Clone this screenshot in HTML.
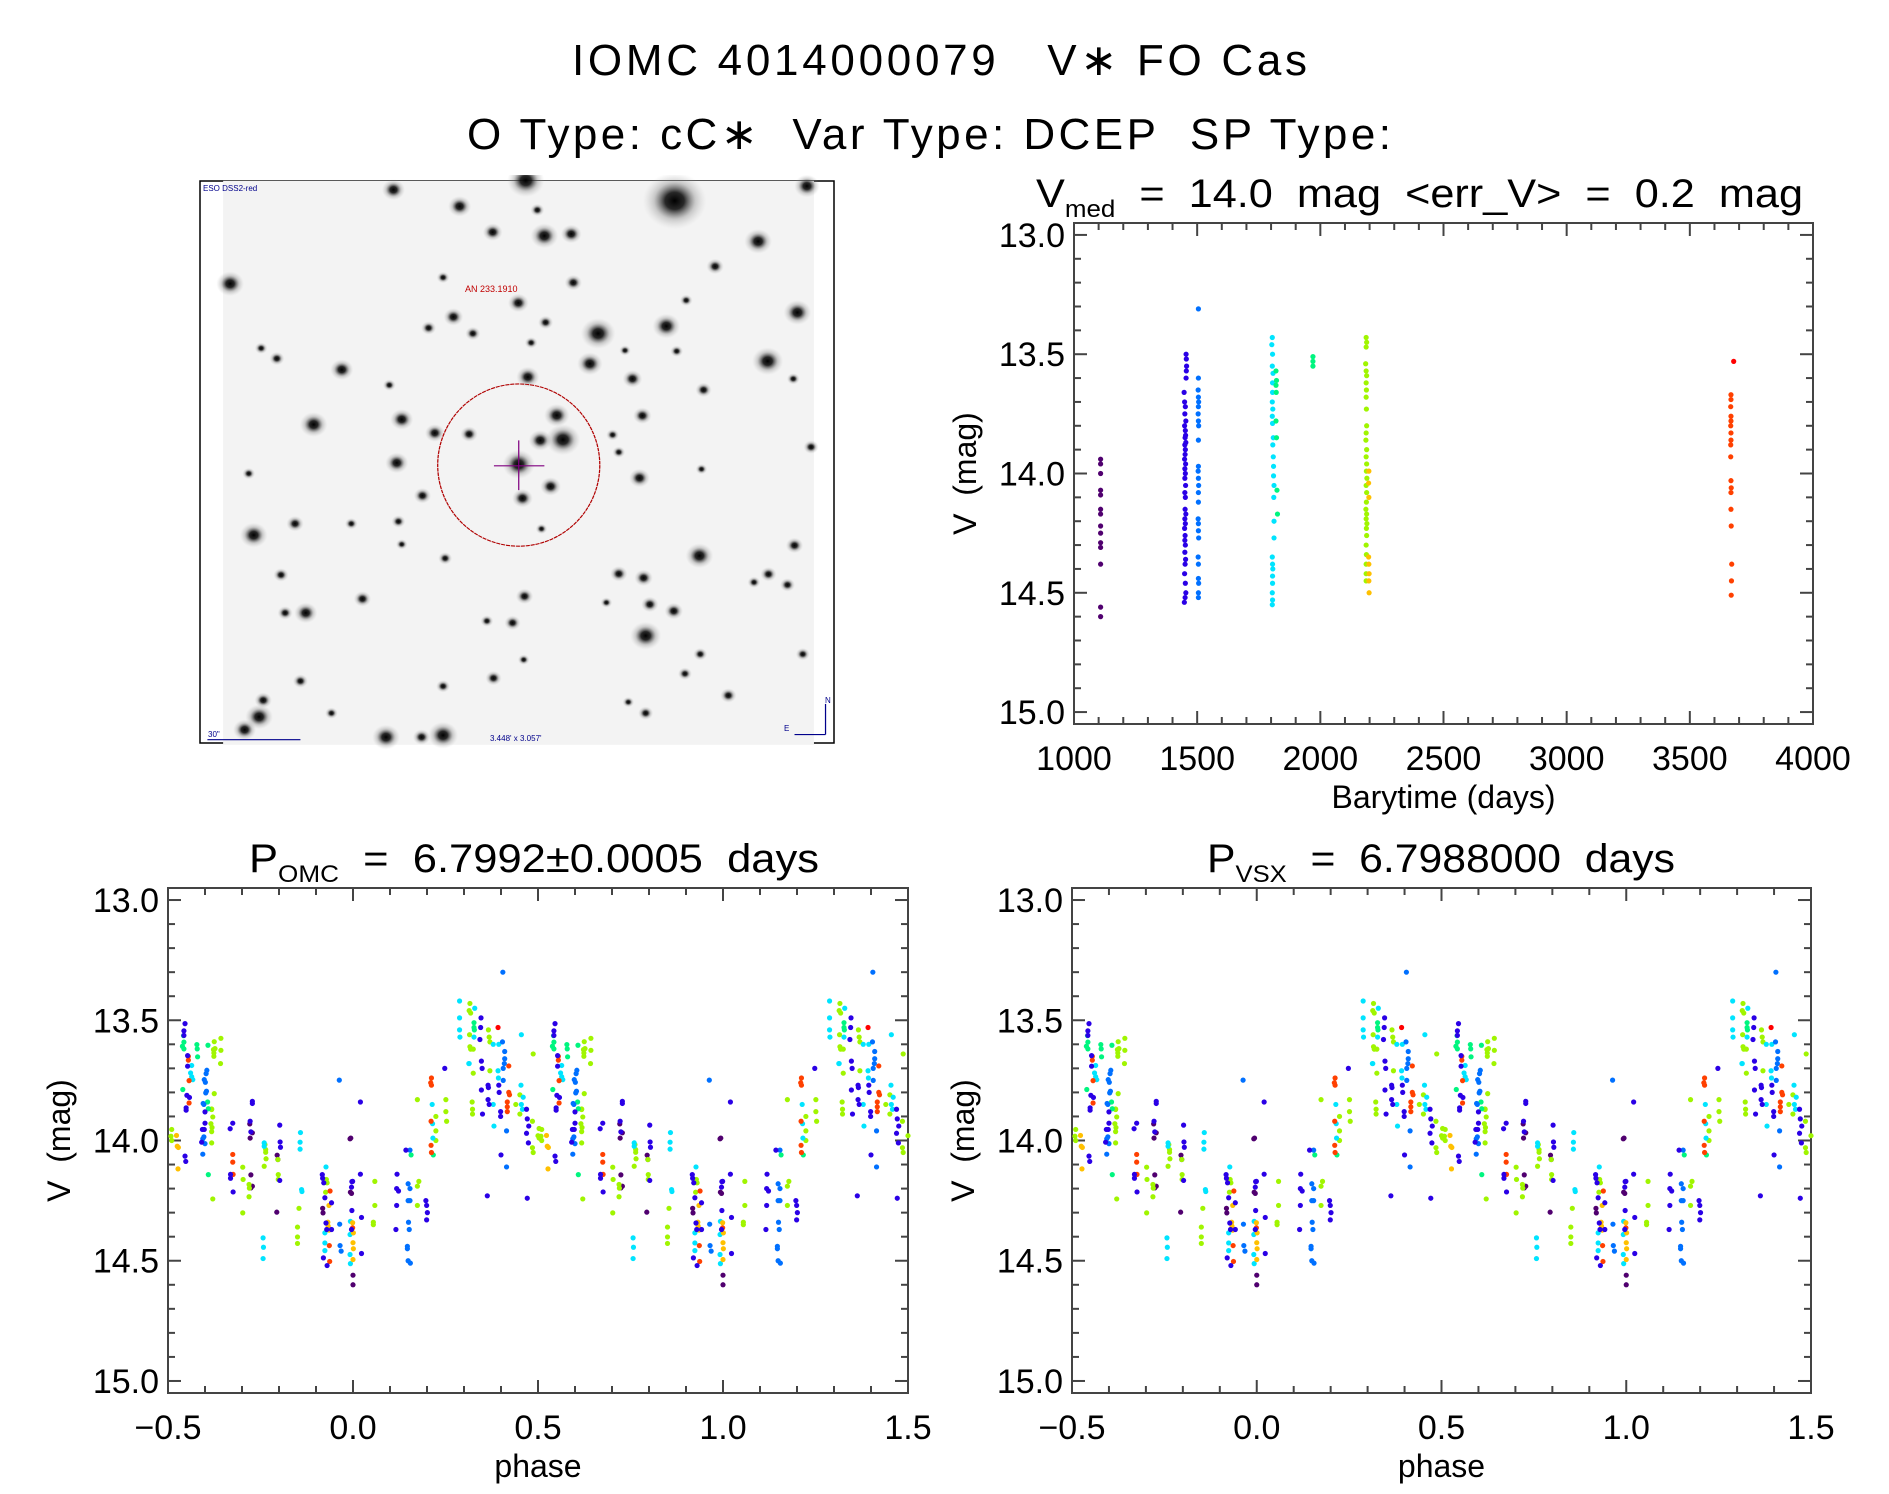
<!DOCTYPE html>
<html><head><meta charset="utf-8"><style>
html,body{margin:0;padding:0;background:#fff}
svg{display:block}
text{font-family:"Liberation Sans",sans-serif;fill:#000;white-space:pre}
</style></head><body>
<svg id="root" width="1889" height="1494" viewBox="0 0 1889 1494" xmlns="http://www.w3.org/2000/svg">
<text x="572" y="75" font-size="44" textLength="735" xml:space="preserve">IOMC 4014000079   V∗ FO Cas</text>
<text x="467" y="149" font-size="44" textLength="924" xml:space="preserve">O Type: cC∗  Var Type: DCEP  SP Type:</text>
<text x="1036" y="207" font-size="40" textLength="767" lengthAdjust="spacingAndGlyphs" xml:space="preserve">V<tspan font-size="24" dy="10">med</tspan><tspan dy="-10">  =  14.0  mag  &lt;err_V&gt;  =  0.2  mag</tspan></text>
<text x="249" y="872" font-size="40" textLength="570" lengthAdjust="spacingAndGlyphs" xml:space="preserve">P<tspan font-size="24" dy="10">OMC</tspan><tspan dy="-10">  =  6.7992±0.0005  days</tspan></text>
<text x="1207" y="872" font-size="40" textLength="468" lengthAdjust="spacingAndGlyphs" xml:space="preserve">P<tspan font-size="24" dy="10">VSX</tspan><tspan dy="-10">  =  6.7988000  days</tspan></text>

<g>
<rect x="200" y="181" width="634" height="562" fill="#fff" stroke="#000" stroke-width="1.5"/>
<svg x="195" y="175" width="645" height="575" viewBox="0 0 1560 1560" preserveAspectRatio="none">
<defs><radialGradient id="star"><stop offset="0" stop-color="#000" stop-opacity="1"/><stop offset="0.3" stop-color="#111" stop-opacity="0.9"/><stop offset="0.65" stop-color="#666" stop-opacity="0.3"/><stop offset="1" stop-color="#aaa" stop-opacity="0"/></radialGradient></defs>
<rect x="68" y="16" width="1429" height="1530" fill="#f3f3f3"/>
<g id="stars"></g>
<ellipse cx="783" cy="787" rx="196" ry="220" fill="none" stroke="#b00000" stroke-width="3" stroke-dasharray="10 2"/>
<line x1="723" y1="789" x2="845" y2="789" stroke="#800080" stroke-width="3"/>
<line x1="783" y1="720" x2="783" y2="855" stroke="#800080" stroke-width="3"/>
<line x1="30" y1="1532" x2="255" y2="1532" stroke="#00008b" stroke-width="3"/>
<line x1="1525" y1="1435" x2="1525" y2="1518" stroke="#00008b" stroke-width="3"/>
<line x1="1450" y1="1518" x2="1525" y2="1518" stroke="#00008b" stroke-width="3"/>
</svg>
<text x="203" y="191" font-size="8" style="fill:#00008b">ESO DSS2-red</text>
<text x="465" y="292" font-size="9" style="fill:#c00000">AN 233.1910</text>
<text x="208" y="737" font-size="8" style="fill:#00008b">30"</text>
<text x="490" y="741" font-size="8" style="fill:#00008b">3.448' x 3.057'</text>
<text x="784" y="731" font-size="8" style="fill:#00008b">E</text>
<text x="825" y="703" font-size="8" style="fill:#00008b">N</text>
</g>
<g id="plots"></g>
</svg>
<script>
// ---- sky image stars [x, y, r] in image viewBox units ----
const starList = [[1160,70,55],[800,15,32],[480,40,20],[640,85,20],[720,155,17],[845,165,24],[910,160,18],[1362,180,24],[1480,30,22],[85,295,24],[1258,248,15],[915,292,15],[782,347,18],[625,385,17],[848,400,13],[975,430,30],[1140,410,24],[1457,373,24],[1385,505,27],[955,512,22],[355,528,20],[805,548,20],[1058,553,17],[1230,583,14],[875,652,22],[890,718,30],[835,720,20],[500,663,20],[580,700,17],[663,703,15],[287,677,24],[488,781,20],[783,785,28],[860,845,18],[792,877,18],[1075,822,18],[1082,653,16],[550,870,15],[142,977,24],[242,946,15],[1220,1033,24],[1450,1005,15],[1025,1082,15],[1085,1093,16],[208,1085,13],[405,1150,15],[268,1188,20],[218,1188,13],[797,1143,15],[1100,1165,15],[1158,1183,16],[768,1215,14],[1090,1250,27],[255,1373,13],[722,1365,14],[600,1387,12],[1222,1300,12],[1290,1412,14],[155,1470,24],[165,1425,15],[120,1505,20],[462,1525,24],[600,1520,26],[548,1525,15],[1387,1083,14],[1433,1112,13],[1490,738,13],[1447,553,11],[565,415,13],[672,430,13],[198,498,13],[160,470,11],[470,570,11],[1010,705,11],[1025,752,11],[1185,1353,12],[1470,1300,12],[330,1460,11],[1090,1460,13],[828,95,12],[600,278,11],[1188,340,11],[813,455,11],[1165,478,11],[1040,476,10],[130,810,11],[378,946,11],[492,940,12],[500,1002,10],[605,1040,12],[1352,1105,11],[995,1160,10],[706,1210,11],[795,1315,10],[1048,1430,10],[1225,798,10],[838,960,10]];
const SNS='http://www.w3.org/2000/svg';
const starG=document.getElementById('stars');
starList.forEach(s=>{const c=document.createElementNS(SNS,'circle');c.setAttribute('cx',s[0]);c.setAttribute('cy',s[1]);c.setAttribute('r',s[2]*1.4);c.setAttribute('fill','url(#star)');


starG.appendChild(c);});

// ---- colors ----
const COL={b:'#2a00e6',a:'#0070ff',c:'#00e4ff',g:'#00f57f',y:'#a0f500',o:'#ffc000',r:'#ff4000',p:'#50006f',R:'#ff0000'};

// ---- light curve (time series) data [time, mag] per observing season ----
const tsPurple=[[1108,13.94],[1108,13.96],[1108,14.0],[1108,14.07],[1108,14.09],[1108,14.15],[1108,14.17],[1108,14.22],[1108,14.25],[1108,14.29],[1108,14.31],[1108,14.38],[1108,14.56],[1108,14.60]];
const tsBlue=[[1455,13.50],[1456,13.52],[1457,13.55],[1456,13.57],[1455,13.60],[1447,13.66],[1449,13.70],[1452,13.72],[1450,13.75],[1454,13.78],[1449,13.80],[1452,13.82],[1453,13.84],[1451,13.85],[1454,13.87],[1450,13.88],[1452,13.90],[1451,13.92],[1449,13.94],[1453,13.96],[1450,13.98],[1452,14.00],[1450,14.02],[1453,14.05],[1450,14.08],[1452,14.10],[1451,14.15],[1454,14.17],[1450,14.19],[1452,14.21],[1449,14.23],[1451,14.26],[1450,14.28],[1452,14.30],[1450,14.33],[1453,14.36],[1451,14.38],[1449,14.42],[1452,14.46],[1454,14.50],[1451,14.52],[1448,14.54]];
const tsAzure=[[1505,13.31],[1505,13.60],[1504,13.65],[1505,13.68],[1506,13.70],[1505,13.72],[1504,13.75],[1505,13.78],[1506,13.80],[1505,13.86],[1505,13.97],[1504,13.99],[1505,14.02],[1506,14.05],[1505,14.08],[1505,14.12],[1504,14.19],[1505,14.21],[1505,14.24],[1506,14.27],[1504,14.35],[1505,14.38],[1505,14.44],[1506,14.46],[1505,14.50],[1505,14.52]];
const tsCyan=[[1805,13.43],[1803,13.46],[1806,13.50],[1805,13.55],[1808,13.58],[1806,13.62],[1806,13.66],[1805,13.70],[1807,13.73],[1805,13.76],[1806,13.79],[1809,13.85],[1807,13.88],[1809,13.93],[1810,13.97],[1810,14.01],[1812,14.05],[1811,14.10],[1812,14.20],[1812,14.27],[1805,14.35],[1806,14.38],[1807,14.40],[1806,14.43],[1806,14.46],[1805,14.50],[1806,14.53],[1805,14.55]];
const tsGreen=[[1820,13.57],[1822,13.61],[1820,13.63],[1821,13.66],[1820,13.78],[1822,13.85],[1824,14.07],[1826,14.17],[1970,13.51],[1970,13.53],[1970,13.55]];
const tsYellow=[[2186,13.43],[2188,13.45],[2186,13.47],[2184,13.54],[2186,13.57],[2188,13.59],[2186,13.62],[2187,13.65],[2186,13.68],[2187,13.73],[2188,13.80],[2186,13.83],[2185,13.86],[2188,13.90],[2186,13.93],[2188,13.96],[2187,13.99],[2189,14.02],[2186,14.05],[2188,14.08],[2187,14.12],[2185,14.15],[2188,14.17],[2186,14.19],[2189,14.21],[2187,14.23],[2188,14.26],[2186,14.30],[2187,14.34],[2186,14.38],[2186,14.42],[2186,14.45]];
const tsOrange=[[2197,13.99],[2196,14.04],[2197,14.10],[2196,14.35],[2197,14.38],[2198,14.42],[2197,14.45],[2198,14.50]];
const tsRed=[[3667,13.67],[3667,13.69],[3666,13.72],[3667,13.76],[3667,13.78],[3666,13.80],[3667,13.83],[3667,13.86],[3666,13.88],[3666,13.93],[3667,14.03],[3668,14.06],[3667,14.08],[3667,14.15],[3668,14.22],[3670,14.38],[3669,14.45],[3668,14.51]];
const tsRedPeak=[[3678,13.53]];
const tsXTicks=[1000,1500,2000,2500,3000,3500,4000];
const magTicks=[13.0,13.5,14.0,14.5,15.0];
const phaseTicks=[-0.5,0.0,0.5,1.0,1.5];

// ---- phase-folded data [phase, mag], one cycle (drawn at phase and phase+1) ----
const phBlue=[[-0.454,13.514],[-0.457,13.544],[-0.457,13.563],[-0.447,13.647],[-0.447,13.691],[-0.449,13.812],[-0.442,13.821],[-0.451,13.864],[-0.451,13.874],[-0.454,14.065],[-0.452,14.087],[-0.400,13.881],[-0.400,13.928],[-0.407,13.954],[-0.402,13.954],[-0.409,14.007],[-0.332,13.951],[-0.325,13.928],[-0.331,14.141],[-0.331,14.157],[-0.324,14.214],[-0.272,13.837],[-0.272,13.846],[-0.278,13.920],[-0.276,13.964],[-0.198,13.936],[-0.197,14.006],[-0.196,14.028],[-0.198,14.166],[-0.083,14.142],[-0.082,14.157],[-0.079,14.176],[-0.076,14.238],[-0.058,14.259],[-0.073,14.343],[-0.071,14.370],[-0.058,14.370],[-0.080,14.488],[-0.070,14.520],[-0.003,14.171],[-0.004,14.194],[-0.003,14.291],[-0.004,14.370],[0.020,13.84],[0.248,13.70],[0.020,14.14],[-0.001,14.17],[0.023,14.32],[0.023,14.47],[0.119,14.14],[0.118,14.20],[0.123,14.21],[0.118,14.27],[0.116,14.37],[0.143,14.04],[0.197,14.25],[0.199,14.27],[0.201,14.30],[0.199,14.33],[0.346,13.49],[0.345,13.53],[0.343,13.58],[0.347,13.67],[0.349,13.70],[0.347,13.79],[0.365,13.77],[0.366,13.78],[0.365,13.83],[0.368,13.85],[0.350,13.89],[0.394,13.77],[0.395,13.80],[0.399,13.88],[0.399,13.90],[0.400,14.06],[0.363,14.23],[0.469,13.87],[0.471,13.91],[0.475,13.94],[0.469,13.97],[0.474,14.01],[0.471,14.24]];
const phAzure=[[-0.395,13.708],[-0.397,13.722],[-0.402,13.747],[-0.399,13.758],[-0.396,13.795],[-0.398,13.802],[-0.405,13.846],[-0.403,13.850],[-0.403,13.985],[-0.406,13.993],[-0.400,14.013],[-0.406,14.057],[-0.037,13.749],[-0.036,14.348],[-0.035,14.437],[-0.032,14.460],[0.405,13.30],[0.404,13.59],[0.410,13.63],[0.410,13.66],[0.409,13.68],[0.406,13.70],[0.406,13.75],[0.415,13.96],[0.415,14.11],[0.154,14.04],[0.149,14.18],[0.154,14.20],[0.149,14.25],[0.154,14.25],[0.150,14.34],[0.152,14.37],[0.147,14.44],[0.147,14.45],[0.149,14.50],[0.155,14.51]];
const phCyan=[[-0.436,13.688],[-0.439,13.719],[-0.436,13.735],[-0.433,13.747],[-0.142,13.967],[-0.143,14.007],[-0.143,14.036],[-0.240,14.010],[-0.240,14.024],[-0.139,14.204],[-0.138,14.212],[-0.243,14.405],[-0.242,14.444],[-0.243,14.491],[-0.073,14.110],[-0.076,14.384],[-0.076,14.426],[-0.076,14.458],[-0.007,14.336],[-0.008,14.391],[-0.008,14.474],[-0.007,14.512],[0.288,13.42],[0.288,13.49],[0.329,13.45],[0.288,13.54],[0.289,13.57],[0.327,13.57],[0.379,13.60],[0.394,13.60],[0.313,13.68],[0.314,13.68],[0.392,13.71],[0.393,13.74],[0.454,13.77],[0.460,13.82],[0.455,13.85],[0.458,13.87],[0.379,13.85],[0.455,13.56],[0.214,13.85],[0.215,13.93],[0.216,13.99],[0.381,13.94]];
const phGreen=[[-0.458,13.564],[-0.457,13.591],[-0.461,13.608],[-0.457,13.619],[-0.422,13.601],[-0.421,13.619],[-0.420,13.652],[-0.392,13.604],[-0.460,13.788],[-0.393,13.840],[-0.391,13.868],[-0.391,14.142],[0.327,13.51],[0.327,13.53],[0.328,13.54],[0.157,14.06],[0.217,14.06]];
const phYellow=[[-0.357,13.575],[-0.375,13.589],[-0.373,13.618],[-0.377,13.622],[-0.376,13.636],[-0.376,13.650],[-0.357,13.625],[-0.358,13.680],[-0.375,13.805],[-0.382,13.871],[-0.382,13.869],[-0.379,13.902],[-0.384,13.930],[-0.381,13.946],[-0.382,13.963],[-0.382,14.010],[-0.379,14.243],[-0.490,13.954],[-0.492,13.982],[-0.490,14.000],[-0.298,14.111],[-0.297,14.162],[-0.281,14.183],[-0.280,14.198],[-0.281,14.234],[-0.298,14.301],[-0.238,14.017],[-0.236,14.038],[-0.236,14.049],[-0.235,14.076],[-0.240,14.107],[-0.203,14.079],[-0.202,14.142],[-0.202,14.162],[-0.146,14.282],[-0.150,14.360],[-0.150,14.401],[-0.150,14.428],[-0.072,14.162],[-0.070,14.176],[-0.074,14.215],[0.316,13.43],[0.314,13.46],[0.318,13.47],[0.315,13.56],[0.316,13.61],[0.318,13.62],[0.325,13.62],[0.366,13.54],[0.368,13.57],[0.370,13.59],[0.370,13.71],[0.325,13.72],[0.322,13.84],[0.323,13.87],[0.323,13.89],[0.487,13.64],[0.451,13.81],[0.440,13.85],[0.451,13.89],[0.485,13.92],[0.503,13.95],[0.500,13.98],[0.503,13.99],[0.485,14.03],[0.487,14.05],[0.174,13.83],[0.224,13.90],[0.224,13.96],[0.224,14.00],[0.251,13.83],[0.251,13.88],[0.253,13.92],[0.178,14.17],[0.174,14.19],[0.059,14.17],[0.059,14.27],[0.055,14.34],[0.055,14.35],[0.174,14.27]];
const phOrange=[[-0.477,13.979],[-0.475,14.024],[-0.472,14.029],[-0.473,14.118],[-0.065,14.270],[-0.068,14.340],[-0.067,14.356],[-0.065,14.373],[-0.001,14.342],[0.001,14.384],[0.000,14.425],[0.001,14.45],[0.000,14.495]];
const phRedOrange=[[-0.445,13.650],[-0.445,13.666],[-0.443,13.751],[-0.443,13.844],[-0.325,14.058],[-0.325,14.090],[-0.324,14.141],[-0.062,14.210],[-0.064,14.437],[-0.063,14.503],[-0.001,14.363],[0.212,13.74],[0.210,13.76],[0.212,13.77],[0.211,13.92],[0.211,14.02],[0.212,14.05],[0.421,13.69],[0.421,13.80],[0.423,13.81],[0.417,13.84],[0.417,13.86],[0.417,13.88]];
const phRed=[[0.392,13.53]];
const phPurple=[[-0.279,13.931],[-0.272,13.968],[-0.278,13.990],[-0.276,14.143],[-0.272,14.190],[-0.276,14.197],[-0.205,14.061],[-0.203,14.079],[-0.206,14.298],[-0.082,14.282],[-0.081,14.301],[-0.007,14.215],[-0.008,13.993],[-0.006,13.99],[-0.004,14.22],[0.000,14.56],[0.000,14.60]];

const NS='http://www.w3.org/2000/svg';
const plots=document.getElementById('plots');
function mk(tag,attrs,parent){const e=document.createElementNS(NS,tag);for(const k in attrs)e.setAttribute(k,attrs[k]);(parent||plots).appendChild(e);return e;}
function scale(d0,d1,r0,r1){return v=>r0+(v-d0)*(r1-r0)/(d1-d0);}

function axes(name,box,xd,yd,xMajor,xMinorStep,xTicks,xFmt,xTitle){
  const g=mk('g',{});
  
  
  const X=scale(xd[0],xd[1],box.l,box.r), Y=scale(yd[0],yd[1],box.t,box.b);
  const st={stroke:'#444','stroke-width':2};
  const frame=mk('rect',{x:box.l,y:box.t,width:box.r-box.l,height:box.b-box.t,fill:'none',stroke:'#444','stroke-width':2},g);
  
  
  const nx=Math.round((xd[1]-xd[0])/xMinorStep);
  for(let i=0;i<=nx;i++){const v=xd[0]+i*xMinorStep;const x=X(v);const maj=Math.abs(((v-xd[0])/xMajor)-Math.round((v-xd[0])/xMajor))<1e-6;const L=maj?13:7;
    mk('line',Object.assign({x1:x,x2:x,y1:box.b,y2:box.b-L},st),g);mk('line',Object.assign({x1:x,x2:x,y1:box.t,y2:box.t+L},st),g);}
  xTicks.forEach(v=>{const t=mk('text',{x:X(v),y:box.b+46,'font-size':34,'text-anchor':'middle'},g);t.textContent=xFmt(v);
    
    });
  for(let i=0;i<=20;i++){const v=13+i*0.1;const y=Y(v);const L=(i%5===0)?13:7;
    mk('line',Object.assign({x1:box.l,x2:box.l+L,y1:y,y2:y},st),g);mk('line',Object.assign({x1:box.r,x2:box.r-L,y1:y,y2:y},st),g);}
  magTicks.forEach(v=>{const t=mk('text',{x:box.l-9,y:Y(v)+12,'font-size':34,'text-anchor':'end'},g);t.textContent=v.toFixed(1);
    
    });
  const xt=mk('text',{x:(box.l+box.r)/2,y:box.b+84,'font-size':32,'text-anchor':'middle'},g);xt.textContent=xTitle;
  
  
  const cy=(box.t+box.b)/2;
  const yt=mk('text',{x:box.l-98,y:cy,'font-size':32,'text-anchor':'middle',transform:`rotate(-90 ${box.l-98} ${cy})`},g);yt.textContent='V  (mag)';
  
  
  return {X,Y,g};
}
function dots(ax,pts,color,shift,xr){
  pts.forEach(p=>{shift.forEach(s=>{const xv=p[0]+s;if(xv<xr[0]||xv>xr[1])return;
    const c=mk('circle',{cx:ax.X(xv),cy:ax.Y(p[1]),r:2.6,fill:color},ax.g);
    
    });});
}
const magDomain=[12.95,15.05];
const lc=axes('lightcurve-plot',{l:1074,r:1813,t:223,b:724},[1000,4000],magDomain,500,100,tsXTicks,v=>String(v),'Barytime (days)');
[[tsPurple,COL.p],[tsBlue,COL.b],[tsAzure,COL.a],[tsCyan,COL.c],[tsGreen,COL.g],[tsYellow,COL.y],[tsOrange,COL.o],[tsRed,COL.r],[tsRedPeak,COL.R]].forEach(s=>dots(lc,s[0],s[1],[0],[1000,4000]));
const fmtP=v=>(v<0?'\u2212':'')+Math.abs(v).toFixed(1);
const phaseSets=[[phPurple,COL.p],[phYellow,COL.y],[phGreen,COL.g],[phCyan,COL.c],[phOrange,COL.o],[phRedOrange,COL.r],[phAzure,COL.a],[phBlue,COL.b],[phRed,COL.R]];
[['omc-phase-plot',168,908],['vsx-phase-plot',1072,1811]].forEach(d=>{
  const ax=axes(d[0],{l:d[1],r:d[2],t:888,b:1393},[-0.5,1.5],magDomain,0.5,0.1,phaseTicks,fmtP,'phase');
  phaseSets.forEach(s=>dots(ax,s[0],s[1],[0,1],[-0.5,1.5]));
});
</script>
</body></html>
